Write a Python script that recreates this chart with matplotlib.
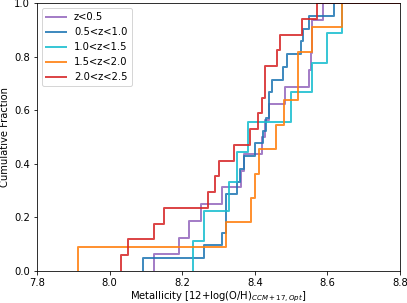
import numpy as np
import matplotlib
matplotlib.use('Agg')
from matplotlib import pyplot as plt

# metallicity values per redshift bin
z_labels = ['z<0.5', '0.5<z<1.0', '1.0<z<1.5', '1.5<z<2.0', '2.0<z<2.5']
colors = ['tab:purple', 'tab:blue', 'tab:cyan', 'tab:orange', 'tab:red']

met_z0 = [8.121, 8.191, 8.219, 8.251, 8.309, 8.362, 8.371, 8.420, 8.429,
          8.438, 8.484, 8.548, 8.556, 8.558, 8.558, 8.588]
met_z1 = [8.092, 8.261, 8.311, 8.320, 8.320, 8.320, 8.351, 8.360, 8.371,
          8.401, 8.422, 8.432, 8.440, 8.440, 8.447, 8.478, 8.490, 8.526,
          8.533, 8.548, 8.617]
met_z2 = [8.229, 8.260, 8.328, 8.351, 8.380, 8.500, 8.558, 8.599, 8.639]
met_z3 = [7.912, 8.320, 8.389, 8.401, 8.411, 8.458, 8.480, 8.519, 8.519,
          8.558, 8.639]
met_z4 = [8.032, 8.051, 8.121, 8.151, 8.271, 8.291, 8.302, 8.342, 8.388,
          8.408, 8.420, 8.429, 8.429, 8.461, 8.470, 8.530, 8.570]

samples = [met_z0, met_z1, met_z2, met_z3, met_z4]

# 72 dpi so default sizes come out at the reference's scale
fig = plt.figure(figsize=(407 / 72, 303 / 72), dpi=72)
ax = fig.add_axes([37 / 407, 32 / 303, 363 / 407, 268 / 303])

for vals, lab, c in zip(samples, z_labels, colors):
    v = np.sort(np.array(vals))
    n = len(v)
    x = np.concatenate([[v[0]], v, [9.5]])
    y = np.concatenate([[0.0], np.arange(1, n + 1) / n, [1.0]])
    ax.step(x, y, where='post', color=c, lw=2, alpha=0.85, label=lab)

ax.set_xlim(7.8, 8.8)
ax.set_ylim(0, 1)
ax.set_xticks(np.arange(7.8, 8.81, 0.2))
ax.set_yticks(np.arange(0, 1.01, 0.2))
ax.set_xlabel(r'Metallicity [12+log(O/H)$_{CCM+17,Opt}$]', labelpad=2)
ax.set_ylabel('Cumulative Fraction')
ax.legend(loc='upper left')

plt.savefig('out.png', dpi=72)
